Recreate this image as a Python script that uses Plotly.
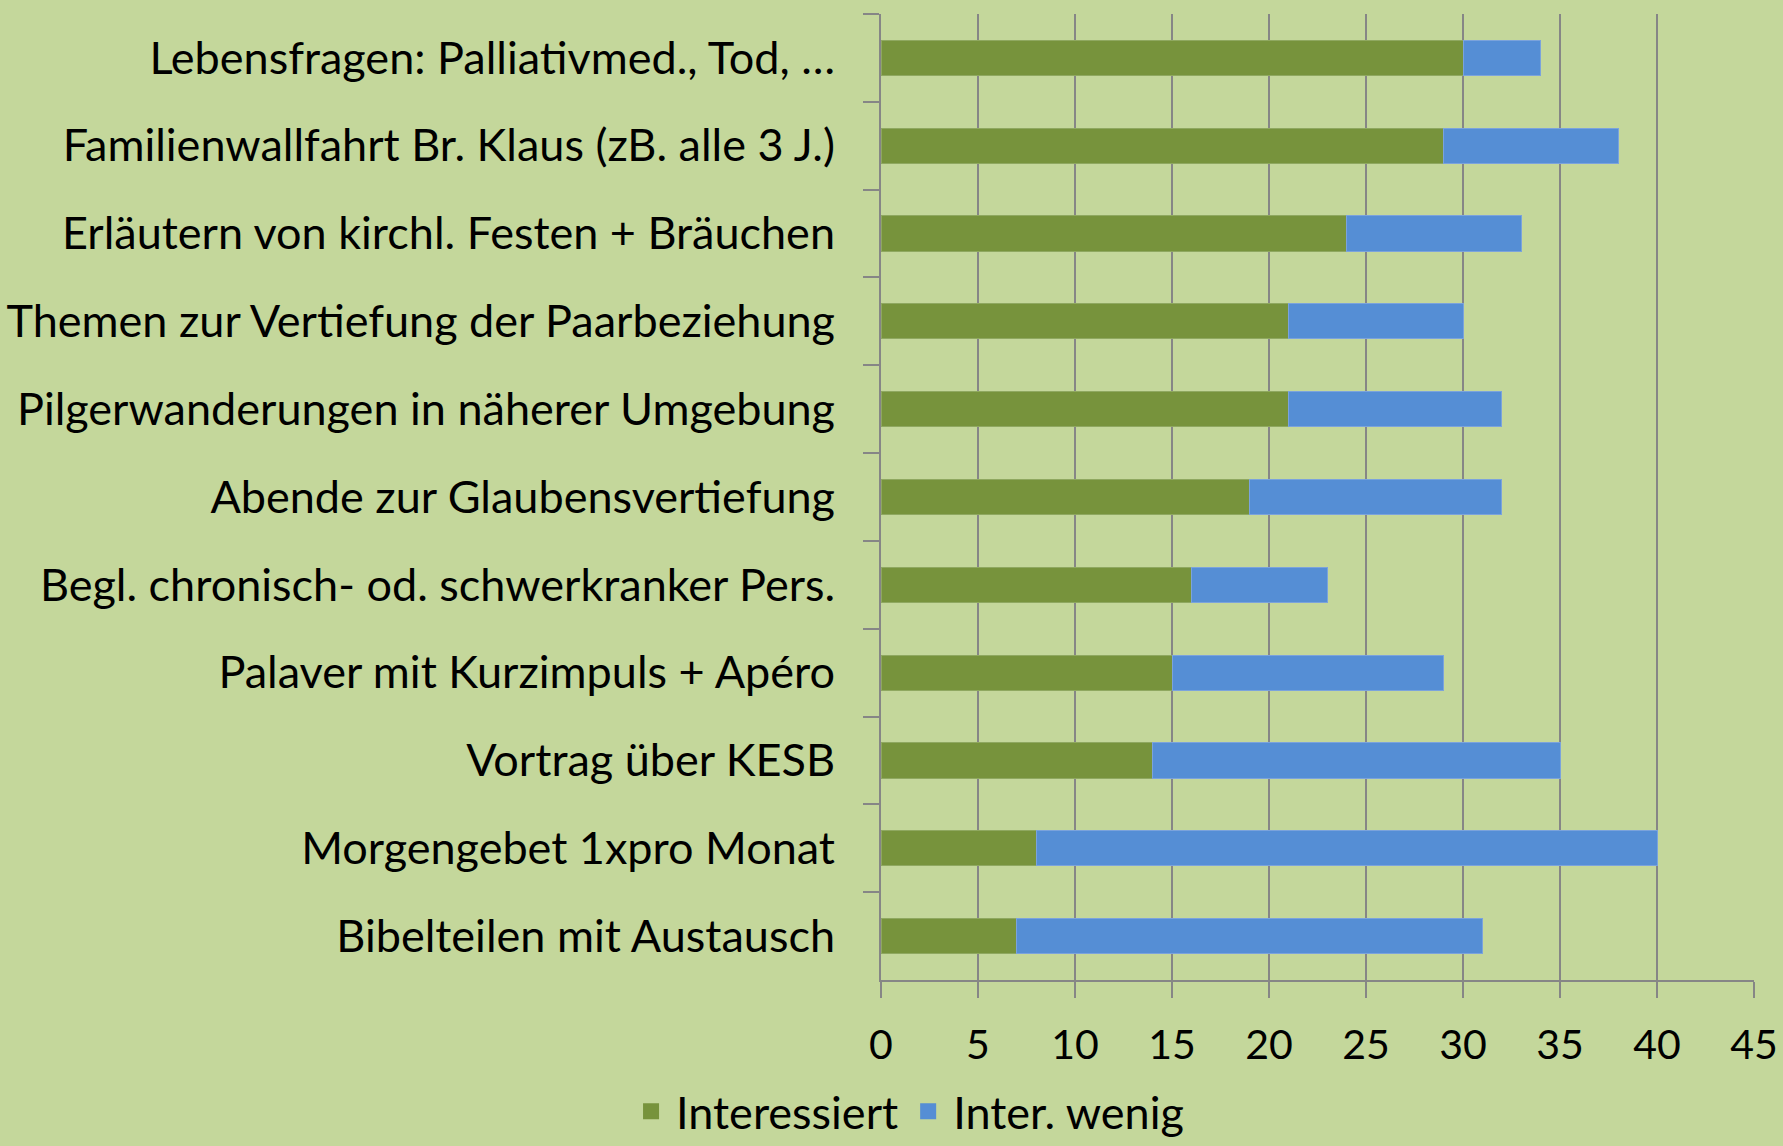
import plotly.graph_objects as go

categories = [
    "Lebensfragen: Palliativmed., Tod, …",
    "Familienwallfahrt Br. Klaus (zB. alle 3 J.)",
    "Erläutern von kirchl. Festen + Bräuchen",
    "Themen zur Vertiefung der Paarbeziehung",
    "Pilgerwanderungen in näherer Umgebung",
    "Abende zur Glaubensvertiefung",
    "Begl. chronisch- od. schwerkranker Pers.",
    "Palaver mit Kurzimpuls + Apéro",
    "Vortrag über KESB",
    "Morgengebet 1xpro Monat",
    "Bibelteilen mit Austausch",
]
interessiert = [30, 29, 24, 21, 21, 19, 16, 15, 14, 8, 7]
inter_wenig = [4, 9, 9, 9, 11, 13, 7, 14, 21, 32, 24]
x_ticks = [0, 5, 10, 15, 20, 25, 30, 35, 40, 45]
series_names = ["Interessiert", "Inter. wenig"]

BG = "#C4D79B"
GREEN = "#77933C"
BLUE = "#558ED5"
GRID = "#868686"
FONT = "Lato"

fig = go.Figure()
fig.add_trace(go.Bar(
    y=categories, x=interessiert, name=series_names[0], orientation="h",
    marker=dict(color=GREEN, line=dict(color="#8FA860", width=1)),
    width=0.4, showlegend=False,
))
fig.add_trace(go.Bar(
    y=categories, x=inter_wenig, name=series_names[1], orientation="h",
    marker=dict(color=BLUE, line=dict(color="#7BA3DC", width=1)),
    width=0.4, showlegend=False,
))
# legend entries with larger square swatches
for name, col in zip(series_names, [GREEN, BLUE]):
    fig.add_trace(go.Scatter(
        x=[None], y=[None], mode="markers", name=name,
        marker=dict(symbol="square", size=26, color=col),
        showlegend=True,
    ))

fig.update_layout(
    barmode="stack",
    width=1783, height=1146,
    paper_bgcolor=BG, plot_bgcolor=BG,
    margin=dict(l=881, r=29, t=14, b=166, autoexpand=False),
    font=dict(family=FONT, size=41, color="#000000"),
    showlegend=True,
    legend=dict(
        orientation="h", xref="container", x=0.509, xanchor="center",
        yref="container", y=0.03, yanchor="middle",
        font=dict(family=FONT, size=45, color="#000000"),
        bgcolor="rgba(0,0,0,0)",
        traceorder="normal", itemsizing="trace", itemwidth=40,
    ),
    xaxis=dict(
        range=[0, 45], tickvals=x_ticks, ticktext=[str(v) for v in x_ticks],
        showgrid=True, gridcolor=GRID, gridwidth=2,
        showline=True, linecolor=GRID, linewidth=2,
        ticks="outside", ticklen=16, tickcolor=GRID, tickwidth=2,
        ticklabelstandoff=12,
        zeroline=False, fixedrange=True,
        tickfont=dict(family=FONT, size=41, color="#000000"),
    ),
    yaxis=dict(
        type="category", autorange="reversed",
        showgrid=False, showline=True, linecolor=GRID, linewidth=2,
        ticks="outside", tickson="boundaries", ticklen=16, tickcolor=GRID, tickwidth=2,
        ticklabelstandoff=35,
        zeroline=False, fixedrange=True,
        tickfont=dict(family=FONT, size=45, color="#000000"),
    ),
)

fig.write_html("out.html")
